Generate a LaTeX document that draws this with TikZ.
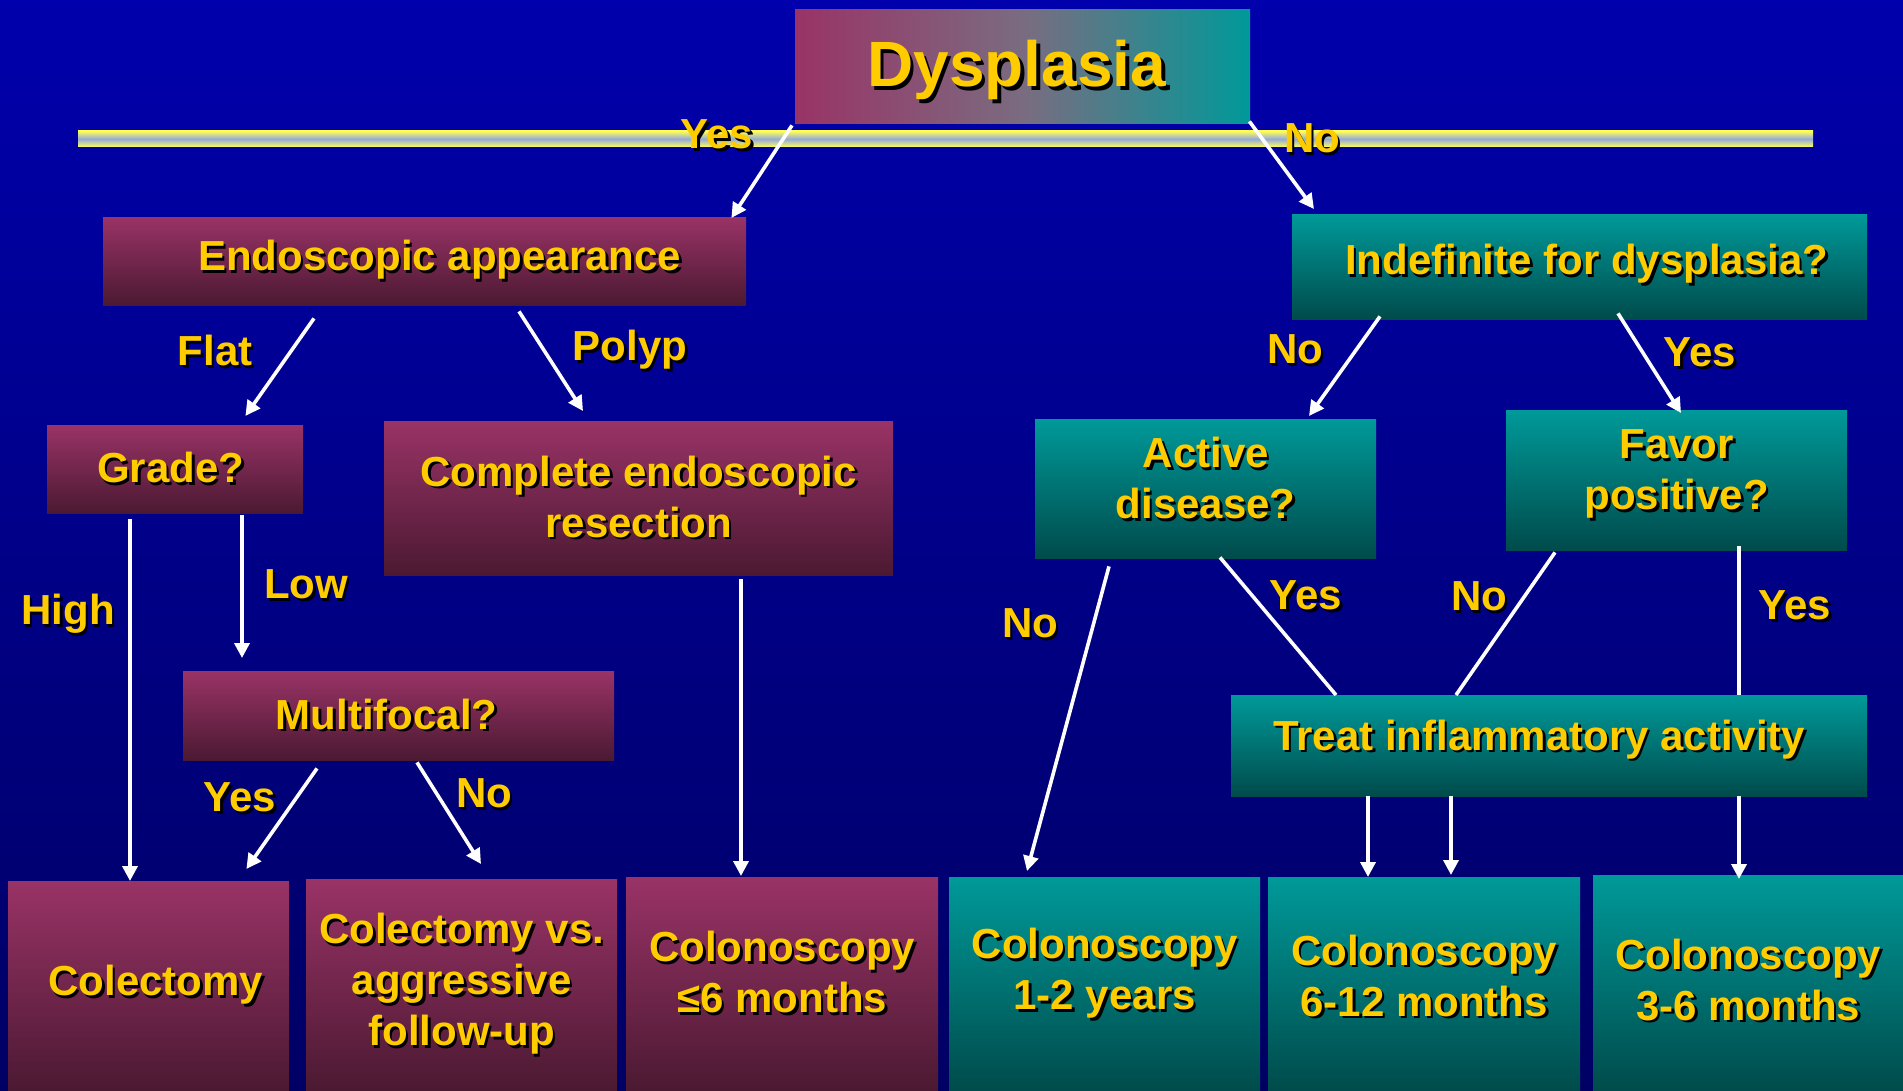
\documentclass[tikz,border=0pt]{standalone}
\usepackage{fontspec}
\setmainfont{Liberation Sans}
\usetikzlibrary{calc,arrows.meta}
\definecolor{bgtop}{RGB}{0,0,172}
\definecolor{bgbot}{RGB}{0,0,100}
\definecolor{mtop}{RGB}{153,51,102}
\definecolor{mbot}{RGB}{75,25,50}
\definecolor{ttop}{RGB}{0,153,153}
\definecolor{tbot}{RGB}{0,75,75}
\definecolor{dmid}{RGB}{122,108,128}
\definecolor{txt}{RGB}{255,204,0}
\definecolor{barY}{RGB}{255,255,90}
\definecolor{barB}{RGB}{150,170,220}
\newcommand\ds[1]{\makebox[0pt][l]{\hspace*{2.5pt}\raisebox{-2.5pt}{\textcolor{black}{#1}}}#1}
\newcommand\dsb[1]{\makebox[0pt][l]{\hspace*{3.5pt}\raisebox{-3.5pt}{\textcolor{black}{#1}}}#1}
\begin{document}
\begin{tikzpicture}[x=1pt,y=-1pt,
 box/.style={anchor=north west, inner sep=0pt, align=center, text=txt, font=\fontsize{42}{51}\selectfont\bfseries},
 mbox/.style={box, top color=mtop, bottom color=mbot},
 tbox/.style={box, top color=ttop, bottom color=tbot},
 lbl/.style={text=txt, font=\fontsize{42}{51}\selectfont\bfseries, inner sep=0pt},
 arr/.style={white, line width=3.6pt, -{Triangle[length=15pt,width=15pt]}},
 ln/.style={white, line width=3.6pt},
]
\useasboundingbox (0,0) rectangle (1903,1091);
\clip (0,0) rectangle (1903,1091);
\shade[top color=bgtop,bottom color=bgbot] (0,0) rectangle (1903,1091);
% bar
\shade[top color=barY,bottom color=barY,middle color=barB] (78,131) rectangle (1813,147);

% boxes
\node[box, left color=mtop, right color=ttop, middle color=dmid, minimum width=455pt, minimum height=114pt, font=\fontsize{64}{70}\selectfont\bfseries] (dys) at (795,9) {\raisebox{-6pt}[\height][\depth]{\dsb{Dysplasia}}\hspace*{12pt}};
\node[mbox, minimum width=643pt, minimum height=88pt] (endo) at (103,217) {\hspace*{30pt}\ds{Endoscopic appearance}};
\node[tbox, minimum width=575pt, minimum height=105pt] (ind) at (1292,214) {\hspace*{14pt}\ds{Indefinite for dysplasia?}\\[-37pt]\mbox{}};
\node[mbox, minimum width=256pt, minimum height=88pt] (grade) at (47,425) {\ds{Grade?}\hspace*{9pt}};
\node[mbox, minimum width=509pt, minimum height=154pt] (cer) at (384,421) {\ds{Complete endoscopic}\\\ds{resection}};
\node[tbox, minimum width=341pt, minimum height=139pt] (act) at (1035,419) {\ds{Active}\\\ds{disease?}\\[-30pt]\mbox{}};
\node[tbox, minimum width=341pt, minimum height=140pt] (fav) at (1506,410) {\ds{Favor}\\\ds{positive?}\\[-30pt]\mbox{}};
\node[mbox, minimum width=431pt, minimum height=89pt] (multi) at (183,671) {\ds{Multifocal?}\hspace*{24pt}};
\node[tbox, minimum width=636pt, minimum height=101pt] (treat) at (1231,695) {\ds{Treat inflammatory activity}\hspace*{20pt}\\[-30pt]\mbox{}};
\node[mbox, minimum width=281pt, minimum height=210pt] (b1) at (8,881) {\hspace*{14pt}\ds{Colectomy}};
\node[mbox, minimum width=311pt, minimum height=212pt] (b2) at (306,879) {\ds{Colectomy vs.}\\\ds{aggressive}\\\ds{follow-up}};
\node[mbox, minimum width=312pt, minimum height=214pt] (b3) at (626,877) {\ds{Colonoscopy}\\\ds{≤6 months}\\[-27pt]\mbox{}};
\node[tbox, minimum width=311pt, minimum height=214pt] (b4) at (949,877) {\ds{Colonoscopy}\\\ds{1-2 years}\\[-21pt]\mbox{}};
\node[tbox, minimum width=312pt, minimum height=214pt] (b5) at (1268,877) {\ds{Colonoscopy}\\\ds{6-12 months}\\[-34pt]\mbox{}};
\node[tbox, minimum width=310pt, minimum height=216pt] (b6) at (1593,875) {\ds{Colonoscopy}\\\ds{3-6 months}\\[-44pt]\mbox{}};

% connectors
\draw[arr] ($(dys.south west)+(-3,2)$) -- ($(endo.north east)+(-15,1)$);
\draw[arr] ($(dys.south east)+(-1,-2)$) -- ($(ind.north west)+(22,-5)$);
\draw[arr] ($(endo.south west)+(211,13)$) -- ($(grade.north east)+(-58,-9)$);
\draw[arr] ($(endo.south west)+(416,6)$) -- ($(cer.north west)+(199,-10)$);
\draw[arr] ($(grade.south west)+(83,6)$) -- ($(b1.north west)+(122,0)$);
\draw[arr] ($(grade.south west)+(195,2)$) -- ($(multi.north west)+(59,-13)$);
\draw[arr] ($(multi.south west)+(134,8)$) -- ($(b1.north east)+(-43,-12)$);
\draw[arr] ($(multi.south west)+(234,2)$) -- ($(b2.north west)+(175,-15)$);
\draw[arr] ($(cer.south west)+(357,4)$) -- ($(b3.north west)+(115,-1)$);
\draw[arr] ($(ind.south west)+(88,-3)$) -- ($(act.north west)+(274,-3)$);
\draw[arr] ($(ind.south west)+(326,-6)$) -- ($(fav.north west)+(175,3)$);
\draw[arr] ($(act.south west)+(74,8)$) -- ($(b4.north west)+(78,-6)$);
\draw[ln] ($(act.south west)+(185,-1)$) -- ($(treat.north west)+(105,0)$);
\draw[ln] ($(fav.south west)+(49,2)$) -- ($(treat.north west)+(225,0)$);
\draw[ln] ($(fav.south west)+(233,-4)$) -- ($(treat.north west)+(508,0)$);
\draw[arr] ($(treat.south west)+(508,0)$) -- ($(b6.north west)+(146,4)$);
\draw[arr] ($(treat.south west)+(137,0)$) -- ($(b5.north west)+(100,0)$);
\draw[arr] ($(treat.south west)+(220,0)$) -- ($(b5.north west)+(183,-2)$);

% labels
\node[lbl] (l1) at (717,136) {\ds{Yes}};
\node[lbl] (l2) at (1312,140) {\ds{No}};
\node[lbl] (l3) at (215,352) {\ds{Flat}};
\node[lbl] (l4) at (630,351) {\ds{Polyp}};
\node[lbl] (l5) at (68,615) {\ds{High}};
\node[lbl] (l6) at (306,586) {\ds{Low}};
\node[lbl] (l7) at (240,799) {\ds{Yes}};
\node[lbl] (l8) at (484,795) {\ds{No}};
\node[lbl] (l9) at (1295,351) {\ds{No}};
\node[lbl] (l10) at (1700,354) {\ds{Yes}};
\node[lbl] (l11) at (1030,625) {\ds{No}};
\node[lbl] (l12) at (1306,597) {\ds{Yes}};
\node[lbl] (l13) at (1479,598) {\ds{No}};
\node[lbl] (l14) at (1795,607) {\ds{Yes}};
\end{tikzpicture}
\end{document}
